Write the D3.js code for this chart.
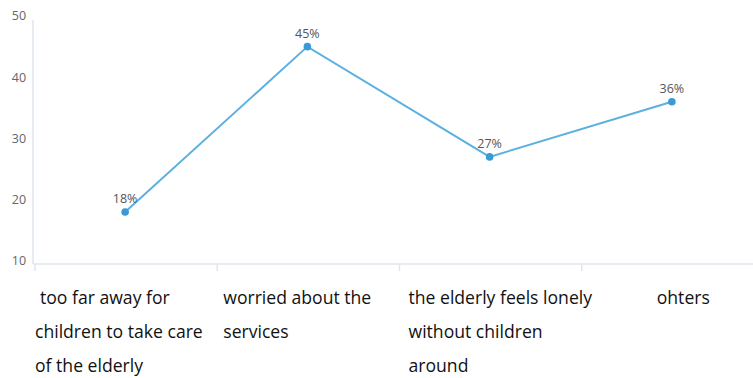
<!DOCTYPE html>
<html>
<head>
<meta charset="utf-8">
<script src="https://cdn.jsdelivr.net/npm/d3@7"></script>
<style>
  html, body { margin: 0; padding: 0; background: #fff; }
  svg { display: block; }
</style>
</head>
<body>
<svg id="chart" width="753" height="378"></svg>
<script>
// Reasons for choosing elderly care, share of respondents (%)
const categories = [
  ["too far away for", "children to take care", "of the elderly"],
  ["worried about the", "services"],
  ["the elderly feels lonely", "without children", "around"],
  ["ohters"]
];
const values = [18, 45, 27, 36];
const yTicks = [10, 20, 30, 40, 50];

const svg = d3.select("#chart");
const plotLeft = 34, plotRight = 763, plotTop = 16, plotBottom = 261;
const axisY = 264;

const x = d3.scaleBand()
  .domain(d3.range(categories.length))
  .range([plotLeft, plotRight]);

const y = d3.scaleLinear()
  .domain([10, 50])
  .range([plotBottom, plotTop]);

// axis lines
svg.append("line")
  .attr("x1", plotLeft - 1).attr("x2", plotLeft - 1)
  .attr("y1", plotTop + 4).attr("y2", axisY)
  .attr("stroke", "#dfe6ee").attr("stroke-width", 1.5);
svg.append("line")
  .attr("x1", plotLeft - 1).attr("x2", 753)
  .attr("y1", axisY).attr("y2", axisY)
  .attr("stroke", "#dfe6ee").attr("stroke-width", 1.5);

// category ticks at band boundaries
svg.selectAll(".xtick")
  .data(d3.range(categories.length))
  .join("line")
  .attr("class", "xtick")
  .attr("x1", d => x(d) + 1).attr("x2", d => x(d) + 1)
  .attr("y1", axisY).attr("y2", axisY + 7)
  .attr("stroke", "#dfe6ee").attr("stroke-width", 1.5);

// y tick labels
svg.selectAll(".ylab")
  .data(yTicks)
  .join("text")
  .attr("class", "ylab")
  .attr("x", 19)
  .attr("y", d => y(d))
  .attr("dy", "0.35em")
  .attr("text-anchor", "middle")
  .attr("font-family", "Open Sans, sans-serif")
  .attr("font-size", 12.5)
  .attr("fill", "#666")
  .text(d => d);

// category labels, multi-line, left-aligned near the band start
const labelShift = [1, 7, 10, 76];
const catText = svg.selectAll(".cat")
  .data(categories)
  .join("text")
  .attr("class", "cat")
  .attr("font-family", "Open Sans, sans-serif")
  .attr("font-size", 17.6)
  .attr("fill", "#111");
catText.each(function(lines, i) {
  const t = d3.select(this);
  lines.forEach((ln, j) => {
    const dx = labelShift[i] + (i === 0 && j === 0 ? 5 : 0);
    t.append("tspan")
      .attr("x", x(i) + dx)
      .attr("y", 304 + j * 34)
      .text(ln);
  });
});

const cx = (d, i) => x(i) + x.bandwidth() / 2;

// series line
const line = d3.line()
  .x((d, i) => cx(d, i))
  .y(d => y(d));
svg.append("path")
  .datum(values)
  .attr("d", line)
  .attr("fill", "none")
  .attr("stroke", "#5bb0e0")
  .attr("stroke-width", 2);

// points
svg.selectAll(".pt")
  .data(values)
  .join("circle")
  .attr("class", "pt")
  .attr("cx", cx)
  .attr("cy", d => y(d))
  .attr("r", 3.8)
  .attr("fill", "#3a9ad6");

// value labels
svg.selectAll(".val")
  .data(values)
  .join("text")
  .attr("class", "val")
  .attr("x", cx)
  .attr("y", d => y(d) - 9)
  .attr("text-anchor", "middle")
  .attr("font-family", "Open Sans, sans-serif")
  .attr("font-size", 12.5)
  .attr("fill", "#555")
  .text(d => d + "%");
</script>
</body>
</html>
